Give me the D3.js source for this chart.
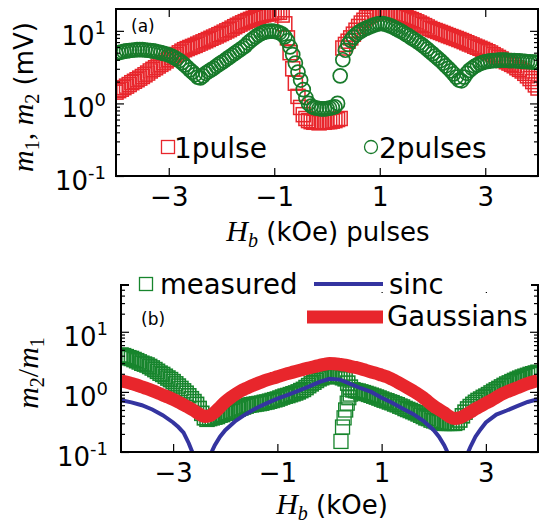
<!DOCTYPE html>
<html><head><meta charset="utf-8">
<script src="https://cdn.jsdelivr.net/npm/d3@7"></script>
<style>
body{margin:0;background:#fff}
svg{display:block}
</style>
</head><body>
<svg id="fig" width="541" height="524"></svg>
<script>
// Field sweep grid (kOe) shared by the measured series: -4 .. 4 in 0.05 steps
const FIELD_MIN = -4, FIELD_STEP = 0.05, FIELD_COUNT = 161;
const field = d3.range(FIELD_COUNT).map(i => +(FIELD_MIN + i * FIELD_STEP).toFixed(2));

// (a) echo amplitude after one pulse, m1 (mV)
const onePulse = [
  1.43,1.50,1.57,1.65,1.73,1.82,1.93,2.02,2.12,2.23,
  2.35,2.48,2.62,2.80,2.95,3.10,3.28,3.45,3.63,3.85,
  4.05,4.28,4.50,4.72,4.98,5.25,5.50,5.70,5.90,6.10,
  6.30,6.55,6.80,7.05,7.30,7.60,7.90,8.20,8.50,8.85,
  9.20,9.60,10.0,10.4,10.9,11.4,11.9,12.4,12.9,13.4,
  13.9,14.4,14.9,15.4,15.8,16.2,16.6,17.0,17.3,17.6,
  17.8,18.0,18.0,16.5,12.5,8.0,5.0,3.0,1.9,1.25,
  0.88,0.70,0.62,0.58,0.56,0.55,0.55,0.54,0.55,0.55,
  0.56,0.56,0.57,0.58,0.60,0.62,5.8,6.5,7.2,8.0,
  9.0,10.2,11.5,12.8,14.0,15.2,16.2,17.0,17.6,18.0,
  18.2,18.3,18.2,18.0,17.8,17.5,17.1,16.7,16.3,15.8,
  15.3,14.8,14.3,13.8,13.3,12.8,12.3,11.8,11.3,10.8,
  10.4,10.1,9.8,9.5,9.2,8.9,8.6,8.35,8.1,7.85,
  7.6,7.35,7.1,6.85,6.6,6.4,6.15,5.95,5.75,5.55,
  5.35,5.15,4.95,4.7,4.5,4.3,4.1,3.9,3.75,3.6,
  3.45,3.3,3.1,2.95,2.8,2.6,2.4,2.2,2.0,1.8,
  1.63
];

// (a) echo amplitude after two pulses, m2 (mV)
const twoPulses = [
  4.9,5.0,5.1,5.2,5.3,5.35,5.4,5.45,5.5,5.5,
  5.5,5.45,5.4,5.35,5.3,5.2,5.1,5.0,4.9,4.8,
  4.65,4.5,4.3,4.1,3.9,3.65,3.4,3.15,2.9,2.7,
  2.5,2.3,2.25,2.4,2.6,2.75,2.9,3.05,3.25,3.45,
  3.65,3.85,4.1,4.35,4.6,4.9,5.2,5.5,5.85,6.2,
  6.8,7.3,7.8,8.3,8.8,9.2,9.5,9.75,9.85,9.9,
  9.85,9.7,9.4,9.0,8.3,7.3,6.0,4.7,3.6,2.7,
  2.1,1.55,1.2,1.0,0.92,0.88,0.86,0.85,0.84,0.84,
  0.85,0.86,0.88,0.9,1.0,2.4,4.0,5.4,6.5,7.4,
  8.2,8.9,9.5,10.0,10.5,10.9,11.3,11.7,12.1,12.4,
  12.6,12.6,12.4,12.1,11.7,11.3,10.8,10.3,9.9,9.4,
  8.9,8.5,8.0,7.6,7.2,6.8,6.4,6.0,5.6,5.2,
  4.85,4.5,4.2,3.9,3.6,3.3,3.05,2.8,2.55,2.3,
  2.1,2.05,2.3,2.6,2.85,3.05,3.25,3.4,3.55,3.65,
  3.75,3.8,3.85,3.9,3.9,3.95,3.95,3.95,3.95,3.9,
  3.9,3.9,3.85,3.85,3.8,3.8,3.75,3.75,3.7,3.7,
  3.65
];

// (b) measured ratio m2/m1 on the same grid
const ratioMeasured = [
  4.1,4.0,3.85,3.7,3.6,3.45,3.3,3.15,3.0,2.9,
  2.8,2.65,2.5,2.35,2.2,2.05,1.95,1.82,1.7,1.6,
  1.48,1.36,1.25,1.14,1.04,0.95,0.86,0.77,0.69,0.62,
  0.53,0.44,0.37,0.35,0.36,0.37,0.38,0.39,0.41,0.42,
  0.44,0.45,0.47,0.48,0.5,0.52,0.54,0.56,0.58,0.6,
  0.61,0.62,0.63,0.64,0.65,0.67,0.68,0.7,0.72,0.74,
  0.76,0.79,0.82,0.85,0.87,0.9,0.93,0.96,1.0,1.05,
  1.1,1.18,1.27,1.36,1.45,1.55,1.65,1.72,1.78,1.82,
  1.85,1.85,1.85,1.82,1.78,1.72,1.65,1.4,1.2,1.08,
  1.05,1.03,1.0,0.97,0.94,0.91,0.88,0.85,0.82,0.79,
  0.76,0.73,0.71,0.68,0.66,0.63,0.61,0.58,0.56,0.53,
  0.51,0.49,0.47,0.45,0.43,0.41,0.39,0.37,0.36,0.34,
  0.33,0.32,0.31,0.31,0.3,0.3,0.3,0.3,0.3,0.31,
  0.34,0.4,0.46,0.52,0.57,0.62,0.67,0.72,0.76,0.81,
  0.85,0.9,0.96,1.02,1.08,1.14,1.21,1.28,1.35,1.41,
  1.48,1.55,1.62,1.69,1.76,1.82,1.88,1.95,2.0,2.06,
  2.12
];
// (b) low branch of the measured ratio just above zero field
const branchField = [0.22,0.25,0.28,0.31,0.34,0.37,0.40];
const branchRatio = [0.15,0.26,0.37,0.50,0.65,0.80,0.92];

// (b) Gaussian-pulse model
const gaussField = [
  -4.0,-3.9,-3.8,-3.7,-3.6,-3.5,-3.4,-3.3,-3.2,-3.1,-3.0,-2.9,-2.8,-2.7,-2.6,-2.5,-2.4,-2.3,-2.2,-2.1,
  -2.0,-1.9,-1.8,-1.7,-1.6,-1.5,-1.4,-1.3,-1.2,-1.1,-1.0,-0.9,-0.8,-0.7,-0.6,-0.5,-0.4,-0.3,-0.2,-0.1,
  0.0,0.1,0.2,0.3,0.4,0.5,0.6,0.7,0.8,0.9,1.0,1.1,1.2,1.3,1.4,1.5,1.6,1.7,1.8,1.9,
  2.0,2.1,2.2,2.3,2.4,2.5,2.6,2.7,2.8,2.9,3.0,3.1,3.2,3.3,3.4,3.5,3.6,3.7,3.8,3.9,4.0
];
const gaussRatio = [
  1.53,1.46,1.38,1.30,1.21,1.13,1.05,0.97,0.89,0.82,0.75,0.68,0.61,0.55,0.49,0.43,0.39,0.40,0.46,0.56,
  0.68,0.80,0.92,1.04,1.14,1.25,1.36,1.47,1.58,1.68,1.78,1.90,2.02,2.13,2.25,2.37,2.50,2.62,2.75,2.88,
  2.97,2.95,2.87,2.78,2.66,2.55,2.42,2.28,2.15,2.03,1.90,1.78,1.62,1.46,1.31,1.17,1.04,0.92,0.80,0.68,
  0.58,0.51,0.45,0.39,0.36,0.37,0.41,0.46,0.52,0.58,0.65,0.72,0.81,0.91,1.00,1.08,1.17,1.27,1.37,1.46,1.55
];

// (b) sinc-pulse model
const sincField = [
  -4.0,-3.8,-3.6,-3.4,-3.2,-3.0,-2.9,-2.8,-2.7,-2.6,-2.55,-2.5,-2.45,-2.4,-2.35,-2.3,-2.25,-2.2,-2.1,-2.0,
  -1.8,-1.6,-1.4,-1.2,-1.0,-0.8,-0.6,-0.4,-0.2,0.0,0.2,0.4,0.6,0.8,1.0,1.2,1.4,1.6,1.8,2.0,
  2.1,2.2,2.25,2.3,2.35,2.4,2.45,2.5,2.55,2.6,2.65,2.7,2.8,2.9,3.0,3.2,3.4,3.6,3.8,4.0
];
const sincRatio = [
  0.73,0.67,0.60,0.51,0.41,0.31,0.26,0.21,0.14,0.085,0.055,0.028,0.004,0.026,0.053,0.08,0.105,0.13,0.18,0.23,
  0.33,0.43,0.54,0.65,0.77,0.89,1.04,1.22,1.45,1.65,1.60,1.36,1.15,1.00,0.80,0.66,0.53,0.43,0.33,0.23,
  0.18,0.13,0.105,0.08,0.055,0.03,0.005,0.02,0.045,0.07,0.095,0.12,0.18,0.24,0.31,0.42,0.49,0.58,0.68,0.76
];

const xTickValues = [-3, -1, 1, 3];
const decadeTicks = [0.1, 1, 10];
const decadeExponents = ["-1", "0", "1"];

const RED = "#e8262c", GREEN = "#177a2a", GREEN_B = "#17852d", BLUE = "#3434a0";
const SANS = "DejaVu Sans, sans-serif";
const SERIF = "Liberation Serif, DejaVu Serif, serif";
const SQ = 14;      // square marker side
const CR = 7;       // circle marker radius

const svg = d3.select("#fig");

function panel(cfg) {
  const x = d3.scaleLinear().domain([-4, 4]).range([cfg.left, cfg.right]);
  const y = d3.scaleLog().domain(cfg.yDomain).range([cfg.bottom, cfg.top]);
  const g = svg.append("g");
  const clipId = "clip-" + cfg.id;
  svg.append("clipPath").attr("id", clipId).append("rect")
    .attr("x", cfg.left).attr("y", cfg.top)
    .attr("width", cfg.right - cfg.left).attr("height", cfg.bottom - cfg.top);
  const plot = g.append("g").attr("clip-path", `url(#${clipId})`);

  // minor + major log ticks, both sides, pointing inward
  const [y0, y1] = cfg.yDomain;
  const minor = [];
  [0.1, 1, 10].forEach(d => { for (let k = 2; k <= 9; k++) { const v = d * k; if (v > y0 && v < y1) minor.push(v); } });
  const axes = g.append("g");
  const yl = d3.axisLeft(y).tickValues(minor).tickSize(-4).tickFormat("");
  const yr = d3.axisRight(y).tickValues(minor).tickSize(-4).tickFormat("");
  const ylM = d3.axisLeft(y).tickValues(decadeTicks).tickSize(-8).tickFormat("");
  const yrM = d3.axisRight(y).tickValues(decadeTicks).tickSize(-8).tickFormat("");
  axes.append("g").attr("transform", `translate(${cfg.left},0)`).call(yl);
  axes.append("g").attr("transform", `translate(${cfg.right},0)`).call(yr);
  axes.append("g").attr("transform", `translate(${cfg.left},0)`).call(ylM);
  axes.append("g").attr("transform", `translate(${cfg.right},0)`).call(yrM);
  const xb = d3.axisBottom(x).tickValues(xTickValues).tickSize(-8).tickPadding(12)
    .tickFormat(d3.format("d"));
  const xt = d3.axisTop(x).tickValues(xTickValues).tickSize(-8).tickFormat("");
  axes.append("g").attr("transform", `translate(0,${cfg.bottom})`).call(xb)
    .selectAll("text").attr("font-family", SANS).attr("font-size", 26).attr("fill", "#000");
  axes.append("g").attr("transform", `translate(0,${cfg.top})`).call(xt);
  axes.selectAll(".domain").remove();
  axes.selectAll(".tick line").attr("stroke", "#000").attr("stroke-width", 1.2);

  // decade labels 10^n
  decadeTicks.forEach((v, i) => {
    const t = g.append("text").attr("x", cfg.labelRight).attr("y", y(v) + 14)
      .attr("text-anchor", "end").attr("font-family", SANS).attr("font-size", 26).attr("fill", "#000");
    t.append("tspan").text("10");
    t.append("tspan").attr("dy", -11).attr("font-size", 18).text(decadeExponents[i]);
  });

  return { x, y, plot, g };
}

// ---------- (a) single- and double-pulse amplitudes ----------
const A = panel({ id: "a", left: 116, right: 538, top: 9, bottom: 176, yDomain: [0.1, 20], labelRight: 106 });

A.plot.append("g").selectAll("rect").data(onePulse).join("rect")
  .attr("x", (d, i) => A.x(field[i]) - SQ / 2).attr("y", d => A.y(d) - SQ / 2)
  .attr("width", SQ).attr("height", SQ)
  .attr("fill", "none").attr("stroke", RED).attr("stroke-width", 1.5);

A.plot.append("g").selectAll("circle").data(twoPulses).join("circle")
  .attr("cx", (d, i) => A.x(field[i])).attr("cy", d => A.y(d)).attr("r", CR)
  .attr("fill", "none").attr("stroke", GREEN).attr("stroke-width", 1.7);

svg.append("rect").attr("x", 116).attr("y", 9).attr("width", 422).attr("height", 167)
  .attr("fill", "none").attr("stroke", "#000").attr("stroke-width", 2);

svg.append("text").attr("x", 131).attr("y", 32).attr("font-family", SANS).attr("font-size", 17).text("(a)");

// legend (a)
svg.append("rect").attr("x", 161.5).attr("y", 140.5).attr("width", 13).attr("height", 13)
  .attr("fill", "none").attr("stroke", RED).attr("stroke-width", 1.3);
svg.append("text").attr("x", 174).attr("y", 158).attr("font-family", SANS).attr("font-size", 28).text("1pulse");
svg.append("circle").attr("cx", 371).attr("cy", 147).attr("r", 6.5)
  .attr("fill", "none").attr("stroke", GREEN).attr("stroke-width", 1.3);
svg.append("text").attr("x", 379).attr("y", 158).attr("font-family", SANS).attr("font-size", 28).text("2pulses");

// axis titles (a)
{
  const t = svg.append("text").attr("x", 328).attr("y", 241).attr("text-anchor", "middle").attr("fill", "#000");
  t.append("tspan").attr("font-family", SERIF).attr("font-style", "italic").attr("font-size", 30).text("H");
  t.append("tspan").attr("font-family", SERIF).attr("font-style", "italic").attr("font-size", 20).attr("dy", 6).text("b");
  t.append("tspan").attr("font-family", SANS).attr("font-size", 26).attr("dy", -6).text(" (kOe) pulses");
}
{
  const t = svg.append("text").attr("transform", "translate(33,97) rotate(-90)").attr("text-anchor", "middle").attr("fill", "#000");
  t.append("tspan").attr("font-family", SERIF).attr("font-style", "italic").attr("font-size", 30).text("m");
  t.append("tspan").attr("font-family", SERIF).attr("font-size", 20).attr("dy", 6).text("1");
  t.append("tspan").attr("font-family", SERIF).attr("font-size", 30).attr("dy", -6).text(",  ");
  t.append("tspan").attr("font-family", SERIF).attr("font-style", "italic").attr("font-size", 30).text("m");
  t.append("tspan").attr("font-family", SERIF).attr("font-size", 20).attr("dy", 6).text("2");
  t.append("tspan").attr("font-family", SANS).attr("font-size", 26).attr("dy", -6).text(" (mV)");
}

// ---------- (b) ratio m2/m1 with model curves ----------
const B = panel({ id: "b", left: 121, right: 538, top: 285, bottom: 452, yDomain: [0.1, 60], labelRight: 108 });

B.plot.append("g").selectAll("rect").data(ratioMeasured).join("rect")
  .attr("x", (d, i) => B.x(field[i]) - SQ / 2).attr("y", d => B.y(d) - SQ / 2)
  .attr("width", SQ).attr("height", SQ)
  .attr("fill", "none").attr("stroke", GREEN_B).attr("stroke-width", 1.6);
B.plot.append("g").selectAll("rect").data(branchRatio).join("rect")
  .attr("x", (d, i) => B.x(branchField[i]) - SQ / 2).attr("y", d => B.y(d) - SQ / 2)
  .attr("width", SQ).attr("height", SQ)
  .attr("fill", "none").attr("stroke", GREEN_B).attr("stroke-width", 1.3);

const lineSinc = d3.line().x((d, i) => B.x(sincField[i])).y(d => B.y(d));
B.plot.append("path").datum(sincRatio).attr("d", lineSinc)
  .attr("fill", "none").attr("stroke", BLUE).attr("stroke-width", 4);

const lineGauss = d3.line().curve(d3.curveMonotoneX).x((d, i) => B.x(gaussField[i])).y(d => B.y(d));
B.plot.append("path").datum(gaussRatio).attr("d", lineGauss)
  .attr("fill", "none").attr("stroke", RED).attr("stroke-width", 13);

svg.append("rect").attr("x", 121).attr("y", 285).attr("width", 417).attr("height", 167)
  .attr("fill", "none").attr("stroke", "#000").attr("stroke-width", 2);

// legend (b) sits on a white patch over the top edge of the frame
svg.append("rect").attr("x", 129).attr("y", 276).attr("width", 402).attr("height", 16).attr("fill", "#fff");
svg.append("rect").attr("x", 139.5).attr("y", 277.5).attr("width", 13).attr("height", 13)
  .attr("fill", "none").attr("stroke", GREEN_B).attr("stroke-width", 1.3);
svg.append("text").attr("x", 160).attr("y", 294).attr("font-family", SANS).attr("font-size", 27.5).text("measured");
svg.append("line").attr("x1", 314).attr("x2", 383).attr("y1", 284).attr("y2", 284)
  .attr("stroke", BLUE).attr("stroke-width", 4);
svg.append("text").attr("x", 389).attr("y", 294).attr("font-family", SANS).attr("font-size", 27.5).text("sinc");
svg.append("line").attr("x1", 307).attr("x2", 383).attr("y1", 317).attr("y2", 317)
  .attr("stroke", RED).attr("stroke-width", 13);
svg.append("text").attr("x", 387).attr("y", 326).attr("font-family", SANS).attr("font-size", 27.5).text("Gaussians");

svg.append("text").attr("x", 141).attr("y", 325).attr("font-family", SANS).attr("font-size", 17).text("(b)");

{
  const t = svg.append("text").attr("x", 332).attr("y", 514).attr("text-anchor", "middle").attr("fill", "#000");
  t.append("tspan").attr("font-family", SERIF).attr("font-style", "italic").attr("font-size", 30).text("H");
  t.append("tspan").attr("font-family", SERIF).attr("font-style", "italic").attr("font-size", 20).attr("dy", 6).text("b");
  t.append("tspan").attr("font-family", SANS).attr("font-size", 26).attr("dy", -6).text(" (kOe)");
}
{
  const t = svg.append("text").attr("transform", "translate(38,373) rotate(-90)").attr("text-anchor", "middle").attr("fill", "#000");
  t.append("tspan").attr("font-family", SERIF).attr("font-style", "italic").attr("font-size", 30).text("m");
  t.append("tspan").attr("font-family", SERIF).attr("font-size", 20).attr("dy", 6).text("2");
  t.append("tspan").attr("font-family", SERIF).attr("font-size", 30).attr("dy", -6).text("/");
  t.append("tspan").attr("font-family", SERIF).attr("font-style", "italic").attr("font-size", 30).text("m");
  t.append("tspan").attr("font-family", SERIF).attr("font-size", 20).attr("dy", 6).text("1");
}
</script>
</body></html>
